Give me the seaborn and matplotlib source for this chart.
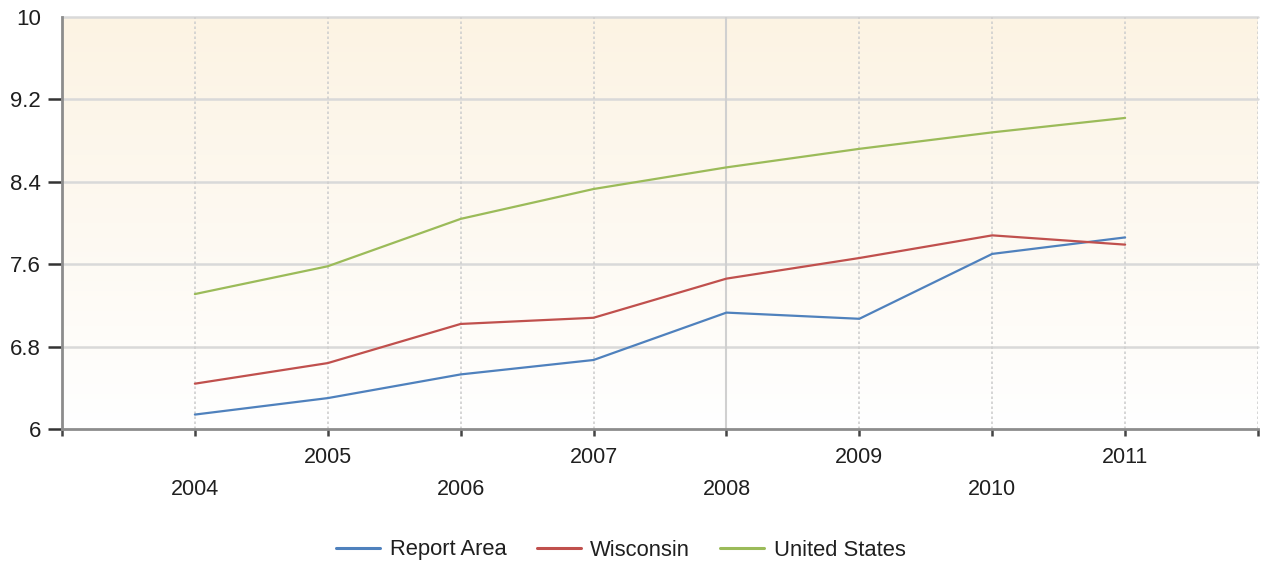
import numpy as np
import pandas as pd
import matplotlib
matplotlib.use("Agg")
import matplotlib.pyplot as plt
import seaborn as sns

# Series values by year
years = [2004, 2005, 2006, 2007, 2008, 2009, 2010, 2011]
report_area = [6.14, 6.30, 6.53, 6.67, 7.13, 7.07, 7.70, 7.86]
wisconsin = [6.44, 6.64, 7.02, 7.08, 7.46, 7.66, 7.88, 7.79]
united_states = [7.31, 7.58, 8.04, 8.33, 8.54, 8.72, 8.88, 9.02]

series_names = ["Report Area", "Wisconsin", "United States"]
series_colors = ["#4F81BD", "#C0504D", "#9BBB59"]
y_ticks = [6, 6.8, 7.6, 8.4, 9.2, 10]
y_tick_labels = ["6", "6.8", "7.6", "8.4", "9.2", "10"]

df = pd.DataFrame({"Year": years,
                   "Report Area": report_area,
                   "Wisconsin": wisconsin,
                   "United States": united_states})
long = df.melt(id_vars="Year", var_name="Area", value_name="Value")

sns.set_theme(style="white")
plt.rcParams["font.family"] = ["Liberation Sans", "DejaVu Sans"]

fig = plt.figure(figsize=(12.61, 5.69), dpi=100)
ax = fig.add_axes([62 / 1261, 1 - 429 / 569, (1258 - 62) / 1261, (429 - 17) / 569])

# Cream-to-white vertical gradient behind the plot
grad = np.linspace(0, 1, 256).reshape(-1, 1)
cmap = matplotlib.colors.LinearSegmentedColormap.from_list("bg", ["#FCF3E3", "#FFFFFF"])
ax.imshow(grad, aspect="auto", cmap=cmap, extent=[0, 1, 0, 1],
          transform=ax.transAxes, zorder=0)

sns.lineplot(data=long, x="Year", y="Value", hue="Area", hue_order=series_names,
             palette=series_colors, linewidth=1.6, ax=ax, zorder=3, legend=True)

x_min, x_max = years[0] - 1, years[-1] + 1
ax.set_xlim(x_min, x_max)
ax.set_ylim(y_ticks[0], y_ticks[-1])

# Grid: solid horizontal lines, dotted vertical lines, solid at the middle year
for yv in y_ticks[1:]:
    ax.axhline(yv, color="#D9D9D9", lw=1.8, zorder=1, clip_on=False)
for xv in range(x_min + 1, x_max + 1):
    ax.axvline(xv, color="#CFCFCF", lw=1.2, ls=(0, (1.5, 1.5)), zorder=1)
ax.axvline(years[4], color="#D0D0D0", lw=1.5, zorder=1)

# Y axis
ax.set_yticks(y_ticks)
ax.set_yticklabels(y_tick_labels)
ax.tick_params(axis="y", which="major", left=True, length=10, width=1.8,
               color="#333333", labelsize=16, labelcolor="#1F1F1F", pad=5)
ax.yaxis.get_major_ticks()[-1].tick1line.set_visible(False)

# X axis with staggered year labels
xt = list(range(x_min, x_max + 1))
xl = [str(v) if v in years else "" for v in xt]
ax.set_xticks(xt)
ax.set_xticklabels(xl)
ax.tick_params(axis="x", which="major", bottom=True, length=5, width=1.8,
               color="#444444", labelsize=15.5, labelcolor="#1F1F1F")
for v, tick in zip(xt, ax.xaxis.get_major_ticks()):
    tick.set_pad(8 if v % 2 == 1 else 31)

ax.set_xlabel("")
ax.set_ylabel("")

for side in ["top", "right"]:
    ax.spines[side].set_visible(False)
ax.spines["left"].set_color("#8C8C8C")
ax.spines["left"].set_linewidth(2)
ax.spines["bottom"].set_color("#8C8C8C")
ax.spines["bottom"].set_linewidth(2)
ax.spines["left"].set_zorder(4)
ax.spines["bottom"].set_zorder(4)

handles, labels = ax.get_legend_handles_labels()
leg = ax.legend(handles=handles, labels=labels, loc="center",
                bbox_to_anchor=(621 / 1261, 1 - 550 / 569), bbox_transform=fig.transFigure,
                ncol=3, frameon=False, fontsize=15.8, handlelength=2.0, handletextpad=0.45,
                columnspacing=1.36, labelcolor="#1F1F1F")
for line in leg.get_lines():
    line.set_linewidth(2.2)

fig.savefig("out.png", dpi=100)
